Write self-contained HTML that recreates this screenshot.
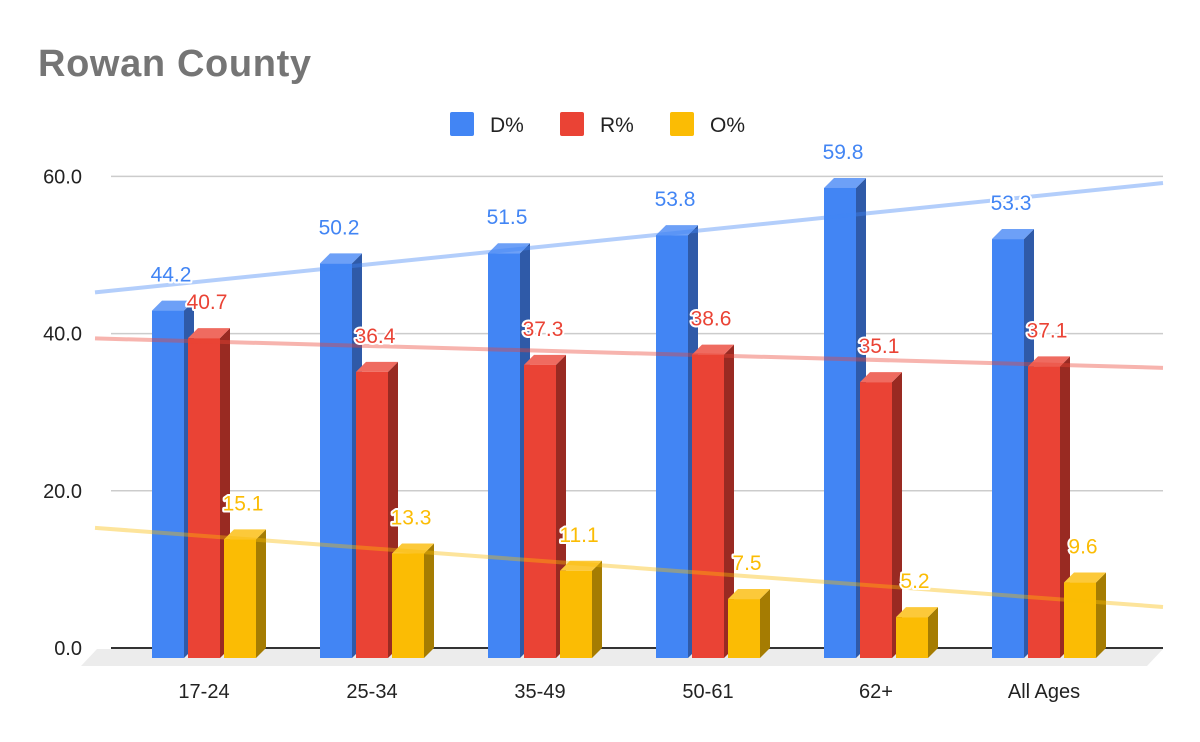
<!DOCTYPE html>
<html><head><meta charset="utf-8"><style>
body{margin:0;background:#fff;}
svg{display:block;font-family:"Liberation Sans",Arial,sans-serif;}
</style></head><body>
<svg id="chart" width="1200" height="742">
<text x="38" y="76" font-size="38" font-weight="bold" fill="#757575" textLength="273">Rowan County</text>
<g>
<rect x="450" y="112" width="24" height="24" rx="2" fill="#4285f4"/>
<text x="490" y="132" font-size="21" fill="#222">D%</text>
<rect x="560" y="112" width="24" height="24" rx="2" fill="#ea4335"/>
<text x="600" y="132" font-size="21" fill="#222">R%</text>
<rect x="670" y="112" width="24" height="24" rx="2" fill="#fbbc04"/>
<text x="710" y="132" font-size="21" fill="#222">O%</text>
</g>
<g id="plot"></g>
</svg>
<script>
const categories=["17-24","25-34","35-49","50-61","62+","All Ages"];
const dVals=[44.2,50.2,51.5,53.8,59.8,53.3];
const rVals=[40.7,36.4,37.3,38.6,35.1,37.1];
const oVals=[15.1,13.3,11.1,7.5,5.2,9.6];
const yTicks=[0,20,40,60];
const yTickLabels=["0.0","20.0","40.0","60.0"];

const NS="http://www.w3.org/2000/svg";
const g=document.getElementById('plot');
const PX=157.2/20, AXIS=648, FRONT=658, D=10, BW=32;
function yA(v){return AXIS-v*PX;}
function yF(v){return FRONT-v*PX;}
function gx(i){return 152+168*i;}
function el(tag,attrs){const e=document.createElementNS(NS,tag);for(const k in attrs)e.setAttribute(k,attrs[k]);g.appendChild(e);return e;}

yTicks.forEach((t,i)=>{
  const l=el('line',{x1:111,x2:1163,y1:yA(t),y2:yA(t),stroke:t===0?'#333':'#ccc','stroke-width':t===0?2:1.5});
  
  
  const tx=el('text',{x:82,y:yA(t)+7,'font-size':20,'text-anchor':'end',fill:'#222'});
  tx.textContent=yTickLabels[i];
  
  
});
const floor=el('polygon',{points:`97,${AXIS+1} 1163,${AXIS+1} 1147,666 81,666`,fill:'#ececec'});



const series=[{v:dVals,c:'#4285f4',side:'#2f5aa8',top:'#6da0f7',n:'d'},
{v:rVals,c:'#ea4335',side:'#992a22',top:'#ef6b60',n:'r'},
{v:oVals,c:'#fbbc04',side:'#a57c02',top:'#fcc93a',n:'o'}];
const labels=[];
categories.forEach((cat,i)=>{
  series.forEach((s,j)=>{
    const x=gx(i)+j*36, v=s.v[i], t=yF(v);
    const side=el('polygon',{points:`${x+BW},${t} ${x+BW+D},${t-D} ${x+BW+D},${FRONT-D} ${x+BW},${FRONT}`,fill:s.side});
    
    
    const top=el('polygon',{points:`${x},${t} ${x+D},${t-D} ${x+BW+D},${t-D} ${x+BW},${t}`,fill:s.top});
    
    
    const r=el('rect',{x:x,y:t,width:BW,height:FRONT-t,fill:s.c});
    
    
    labels.push({x:x+BW/2+3,y:t-29,txt:v.toFixed(1),c:s.c,n:s.n});
  });
  const ct=el('text',{x:gx(i)+52,y:698,'font-size':20,'text-anchor':'middle',fill:'#222'});
  ct.textContent=cat;
  
  
});
series.forEach(s=>{
  const n=s.v.length, mx=(n-1)/2, my=s.v.reduce((a,b)=>a+b,0)/n;
  let num=0,den=0; s.v.forEach((v,i)=>{num+=(i-mx)*(v-my);den+=(i-mx)*(i-mx);});
  const sl=num/den;
  const xi=x=>(x-204)/168;
  const f=x=>yA(my+sl*(xi(x)-mx));
  const l=el('line',{x1:95,y1:f(95),x2:1163,y2:f(1163),stroke:s.c,'stroke-width':4,'stroke-opacity':0.4});
  
  
});
labels.forEach(L=>{
  const t=el('text',{x:L.x,y:L.y,'font-size':21,'text-anchor':'middle',fill:L.c,stroke:'#fff','stroke-width':4,'paint-order':'stroke','stroke-linejoin':'round'});
  t.textContent=L.txt;
  
  
});
</script>
</body></html>
